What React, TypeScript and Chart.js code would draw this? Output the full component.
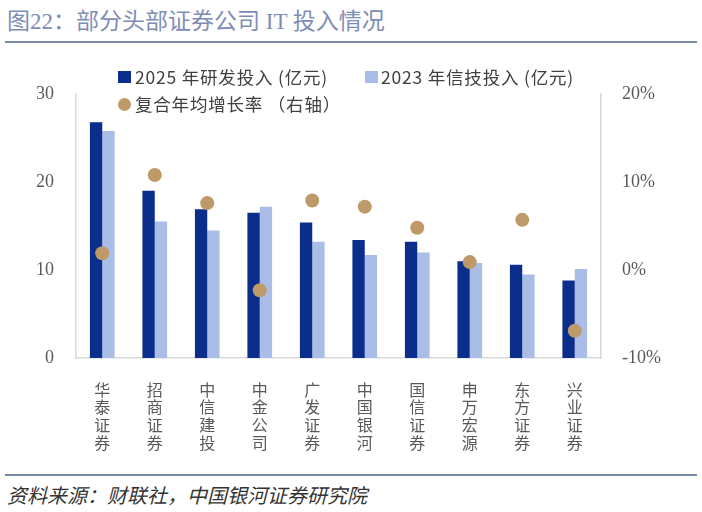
import { useEffect, useRef } from "react";
import { Chart, registerables } from "chart.js";

Chart.register(...registerables);

const companies = [
  "华泰证券",
  "招商证券",
  "中信建投",
  "中金公司",
  "广发证券",
  "中国银河",
  "国信证券",
  "申万宏源",
  "东方证券",
  "兴业证券",
];
const rd2025 = [26.8, 19.0, 16.9, 16.5, 15.4, 13.4, 13.2, 11.0, 10.6, 8.8];
const it2023 = [25.8, 15.5, 14.5, 17.2, 13.2, 11.7, 12.0, 10.8, 9.5, 10.1];
const cagr = [1.9, 10.8, 7.6, -2.3, 7.9, 7.2, 4.8, 0.9, 5.7, -6.9];

const DARK = "#0B2D8C";
const LIGHT = "#A9BDE6";
const DOT = "#BE9A68";
const TICK = "#595959";
const AXIS = "#D9D9D9";
const NUM_FONT = '"Liberation Serif", "Noto Sans CJK SC", serif';
const CJK_FONT = '"Noto Sans CJK SC", "Liberation Sans", sans-serif';

function ComboChart() {
  const canvasRef = useRef<HTMLCanvasElement | null>(null);

  useEffect(() => {
    if (!canvasRef.current) return;
    const chart = new Chart(canvasRef.current, {
      type: "bar",
      data: {
        labels: companies.map((c) => c.split("")),
        datasets: [
          {
            type: "line",
            label: "复合年均增长率 （右轴）",
            data: cagr,
            yAxisID: "y2",
            showLine: false,
            pointRadius: 7,
            pointHoverRadius: 7,
            pointBackgroundColor: DOT,
            pointBorderWidth: 0,
            borderColor: DOT,
            order: 0,
          },
          {
            label: "2025 年研发投入 (亿元)",
            data: rd2025,
            backgroundColor: DARK,
            yAxisID: "y",
            order: 1,
          },
          {
            label: "2023 年信技投入 (亿元)",
            data: it2023,
            backgroundColor: LIGHT,
            yAxisID: "y",
            order: 1,
          },
        ],
      },
      options: {
        responsive: false,
        animation: false,
        layout: { padding: { top: 44, left: 0, right: 0, bottom: 0 } },
        datasets: {
          bar: { categoryPercentage: 0.47, barPercentage: 1.0 },
        },
        plugins: {
          legend: { display: false },
          tooltip: { enabled: false },
        },
        scales: {
          x: {
            grid: { display: false, drawTicks: false },
            border: { display: true, color: AXIS, width: 1.5 },
            ticks: {
              color: TICK,
              font: { family: CJK_FONT, size: 16, lineHeight: 1.1 },
              padding: 23,
              maxRotation: 0,
              autoSkip: false,
            },
            afterFit: (s: any) => {
              s.height = 112;
            },
          },
          y: {
            position: "left",
            min: 0,
            max: 30,
            grid: { display: false, drawTicks: false },
            border: { display: true, color: AXIS, width: 1.5 },
            ticks: {
              stepSize: 10,
              color: TICK,
              font: { family: NUM_FONT, size: 18 },
              padding: 22,
            },
            afterFit: (s: any) => {
              s.width = 76;
            },
          },
          y2: {
            position: "right",
            min: -10,
            max: 20,
            grid: { display: false, drawTicks: false },
            border: { display: true, color: AXIS, width: 1.5 },
            ticks: {
              stepSize: 10,
              color: TICK,
              font: { family: NUM_FONT, size: 18 },
              padding: 21,
              callback: (v: any) => `${v}%`,
            },
            afterFit: (s: any) => {
              s.width = 101;
            },
          },
        },
      },
    });
    return () => chart.destroy();
  }, []);

  return (
    <canvas
      ref={canvasRef}
      width={702}
      height={420}
      style={{ position: "absolute", left: 0, top: 50, width: 702, height: 420 }}
    />
  );
}

export default function App() {
  const legendText: React.CSSProperties = {
    position: "absolute",
    fontFamily: CJK_FONT,
    fontSize: 17.5,
    letterSpacing: 0.8,
    color: "#404040",
    lineHeight: "20px",
    whiteSpace: "nowrap",
  };
  return (
    <div
      style={{
        position: "fixed",
        left: 0,
        top: 0,
        width: 702,
        height: 512,
        background: "#fff",
        overflow: "hidden",
      }}
    >
      <div
        style={{
          position: "absolute",
          left: 7,
          top: 7,
          fontFamily: NUM_FONT,
          fontSize: 23,
          lineHeight: "30px",
          color: "#7E8DB5",
          whiteSpace: "nowrap",
        }}
      >
        图22：部分头部证券公司 IT 投入情况
      </div>
      <div
        style={{
          position: "absolute",
          left: 5,
          top: 41,
          width: 692,
          height: 2,
          background: "#7889A8",
        }}
      />
      <ComboChart />
      <div style={{ position: "absolute", left: 118, top: 71, width: 13, height: 12, background: DARK }} />
      <div style={{ ...legendText, left: 135, top: 67 }}>2025 年研发投入 (亿元)</div>
      <div style={{ position: "absolute", left: 365, top: 71, width: 13, height: 12, background: LIGHT }} />
      <div style={{ ...legendText, left: 381, top: 67 }}>2023 年信技投入 (亿元)</div>
      <div
        style={{
          position: "absolute",
          left: 118,
          top: 98,
          width: 13,
          height: 13,
          borderRadius: "50%",
          background: DOT,
        }}
      />
      <div style={{ ...legendText, left: 135, top: 94 }}>复合年均增长率 （右轴）</div>
      <div
        style={{
          position: "absolute",
          left: 5,
          top: 474,
          width: 692,
          height: 2,
          background: "#7889A8",
        }}
      />
      <div
        style={{
          position: "absolute",
          left: 7,
          top: 481,
          fontFamily: CJK_FONT,
          fontStyle: "italic",
          fontSize: 20,
          lineHeight: "27px",
          color: "#333",
          whiteSpace: "nowrap",
        }}
      >
        资料来源：财联社，中国银河证券研究院
      </div>
    </div>
  );
}
